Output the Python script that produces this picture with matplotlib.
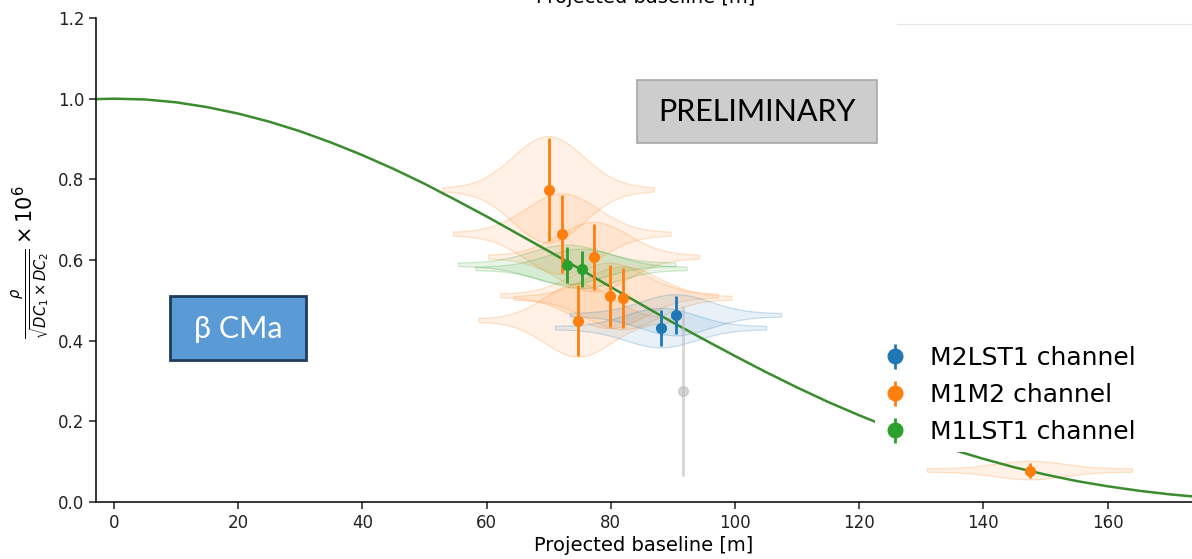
import numpy as np
import matplotlib
matplotlib.use("Agg")
import matplotlib.pyplot as plt
from matplotlib.patches import Rectangle
from matplotlib.lines import Line2D

# ---------------- data ----------------
m2lst1_x = [88.1, 90.5]
m2lst1_y = [0.431, 0.463]
m2lst1_err = [0.045, 0.047]
m2lst1_spread = [17.0, 17.0]

m1m2_x = [70.0, 72.2, 77.3, 79.8, 82.0, 74.8, 147.5]
m1m2_y = [0.774, 0.664, 0.607, 0.511, 0.505, 0.450, 0.078]
m1m2_err = [0.128, 0.096, 0.082, 0.077, 0.074, 0.087, 0.019]
m1m2_spread = [17.0, 17.5, 17.0, 17.5, 17.5, 16.0, 16.5]

m1lst1_x = [73.0, 75.3]
m1lst1_y = [0.588, 0.578]
m1lst1_err = [0.045, 0.045]
m1lst1_spread = [17.5, 17.0]

excluded_x = [91.6]
excluded_y = [0.275]
excluded_err = [0.21]

fit_baseline = [-5, 0, 5, 10, 15, 20, 25, 30, 35, 40, 45, 50, 55, 60, 65, 70,
                75, 80, 85, 90, 95, 100, 105, 110, 115, 120, 125, 130, 135,
                140, 145, 150, 155, 160, 165, 170, 175]
fit_corr = [0.998, 1.000, 0.998, 0.991, 0.979, 0.963, 0.943, 0.919, 0.891,
            0.860, 0.826, 0.789, 0.749, 0.708, 0.665, 0.622, 0.578, 0.533,
            0.489, 0.445, 0.403, 0.362, 0.322, 0.284, 0.248, 0.215, 0.184,
            0.156, 0.130, 0.107, 0.086, 0.068, 0.052, 0.039, 0.028, 0.019,
            0.012]

x_ticks = [0, 20, 40, 60, 80, 100, 120, 140, 160]
y_ticks = [0.0, 0.2, 0.4, 0.6, 0.8, 1.0, 1.2]
series_labels = ["M2LST1 channel", "M1M2 channel", "M1LST1 channel"]

# ---------------- figure ----------------
W, H = 1192, 559
fig = plt.figure(figsize=(W / 100, H / 100), dpi=100)
ax = fig.add_axes([96 / W, 1 - 502 / H, (W - 96) / W, (502 - 18) / H])

BLUE = "#1f77b4"
ORANGE = "#ff7f0e"
GREEN = "#2ca02c"
FIT = "#3a8c2e"


def violin(xc, yc, hw, hh, color):
    xs = np.linspace(xc - hw, xc + hw, 160)
    prof = hh * np.exp(-0.5 * ((xs - xc) / (hw / 3.0)) ** 2) + 0.004
    ax.fill_between(xs, yc - prof, yc + prof, facecolor=color, alpha=0.10,
                    edgecolor="none", zorder=1)
    ax.plot(np.r_[xs, xs[::-1], xs[:1]],
            np.r_[yc + prof, (yc - prof)[::-1], yc + prof[:1]],
            color=color, alpha=0.22, lw=0.9, zorder=1)


for xs_, ys_, es_, sp_, c in [(m1m2_x, m1m2_y, m1m2_err, m1m2_spread, ORANGE),
                              (m1lst1_x, m1lst1_y, m1lst1_err, m1lst1_spread, GREEN),
                              (m2lst1_x, m2lst1_y, m2lst1_err, m2lst1_spread, BLUE)]:
    for xc, yc, e, sp in zip(xs_, ys_, es_, sp_):
        violin(xc, yc, sp, e, c)

ax.plot(fit_baseline, fit_corr, color=FIT, lw=1.8, zorder=2)

ax.errorbar(excluded_x, excluded_y, yerr=excluded_err, fmt="o", color="#bbbbbb",
            ms=7, elinewidth=2, alpha=0.6, zorder=2)
ax.errorbar(m2lst1_x, m2lst1_y, yerr=m2lst1_err, fmt="o", color=BLUE, ms=7,
            elinewidth=2, label=series_labels[0], zorder=3)
ax.errorbar(m1m2_x, m1m2_y, yerr=m1m2_err, fmt="o", color=ORANGE, ms=7,
            elinewidth=2, label=series_labels[1], zorder=3)
ax.errorbar(m1lst1_x, m1lst1_y, yerr=m1lst1_err, fmt="o", color=GREEN, ms=7,
            elinewidth=2, label=series_labels[2], zorder=3)

ax.set_xlim(-2.9, 173.6)
ax.set_ylim(0, 1.2)
ax.set_xticks(x_ticks)
ax.set_yticks(y_ticks)
ax.set_yticklabels([f"{v:.1f}" for v in y_ticks])
for s in ["top", "right"]:
    ax.spines[s].set_visible(False)
for s in ["left", "bottom"]:
    ax.spines[s].set_linewidth(1.1)
ax.tick_params(labelsize=12, length=5, width=1.1, colors="#222222")
ax.set_xlabel("Projected baseline [m]", fontsize=14, labelpad=3)

fig.text(31 / W, 1 - 262 / H,
         r"$\frac{\rho}{\sqrt{DC_1 \times DC_2}} \times 10^6$",
         rotation=90, ha="center", va="center", fontsize=15)

# cropped title of the panel above
fig.text(646 / W, 1 - 3 / H, "Projected baseline [m]", ha="center",
         va="baseline", fontsize=14)
fig.add_artist(Line2D([897 / W, 1.0], [1 - 24 / H, 1 - 24 / H],
                      transform=fig.transFigure, color="#e6e6e6", lw=0.8))

leg = ax.legend(loc="upper left", bbox_to_anchor=(862 / W, 1 - 326 / H),
                bbox_transform=fig.transFigure, fontsize=18, frameon=True,
                facecolor="white", edgecolor="none", framealpha=1.0,
                markerscale=1.5, handlelength=1.0, handletextpad=0.9,
                labelspacing=0.52, borderpad=0.3)
leg.set_zorder(5)

# PRELIMINARY box
fig.add_artist(Rectangle((637 / W, 1 - 143 / H), 240 / W, 63 / H,
                         transform=fig.transFigure, facecolor="#cdcdcd",
                         edgecolor="#a8a8a8", lw=1.2, zorder=6))
fig.text(757 / W, 1 - 112 / H, "PRELIMINARY", ha="center", va="center",
         fontsize=22, family="Lato", color="black", zorder=7)

# beta CMa box
fig.add_artist(Rectangle((170 / W, 1 - 360 / H), 136 / W, 64 / H,
                         transform=fig.transFigure, facecolor="#5b9bd5",
                         edgecolor="#1f3b5c", lw=2, zorder=6))
fig.text(238 / W, 1 - 329 / H, "β CMa", ha="center", va="center",
         fontsize=22, family="Lato", color="white", zorder=7)

fig.savefig("out.png", dpi=100)
